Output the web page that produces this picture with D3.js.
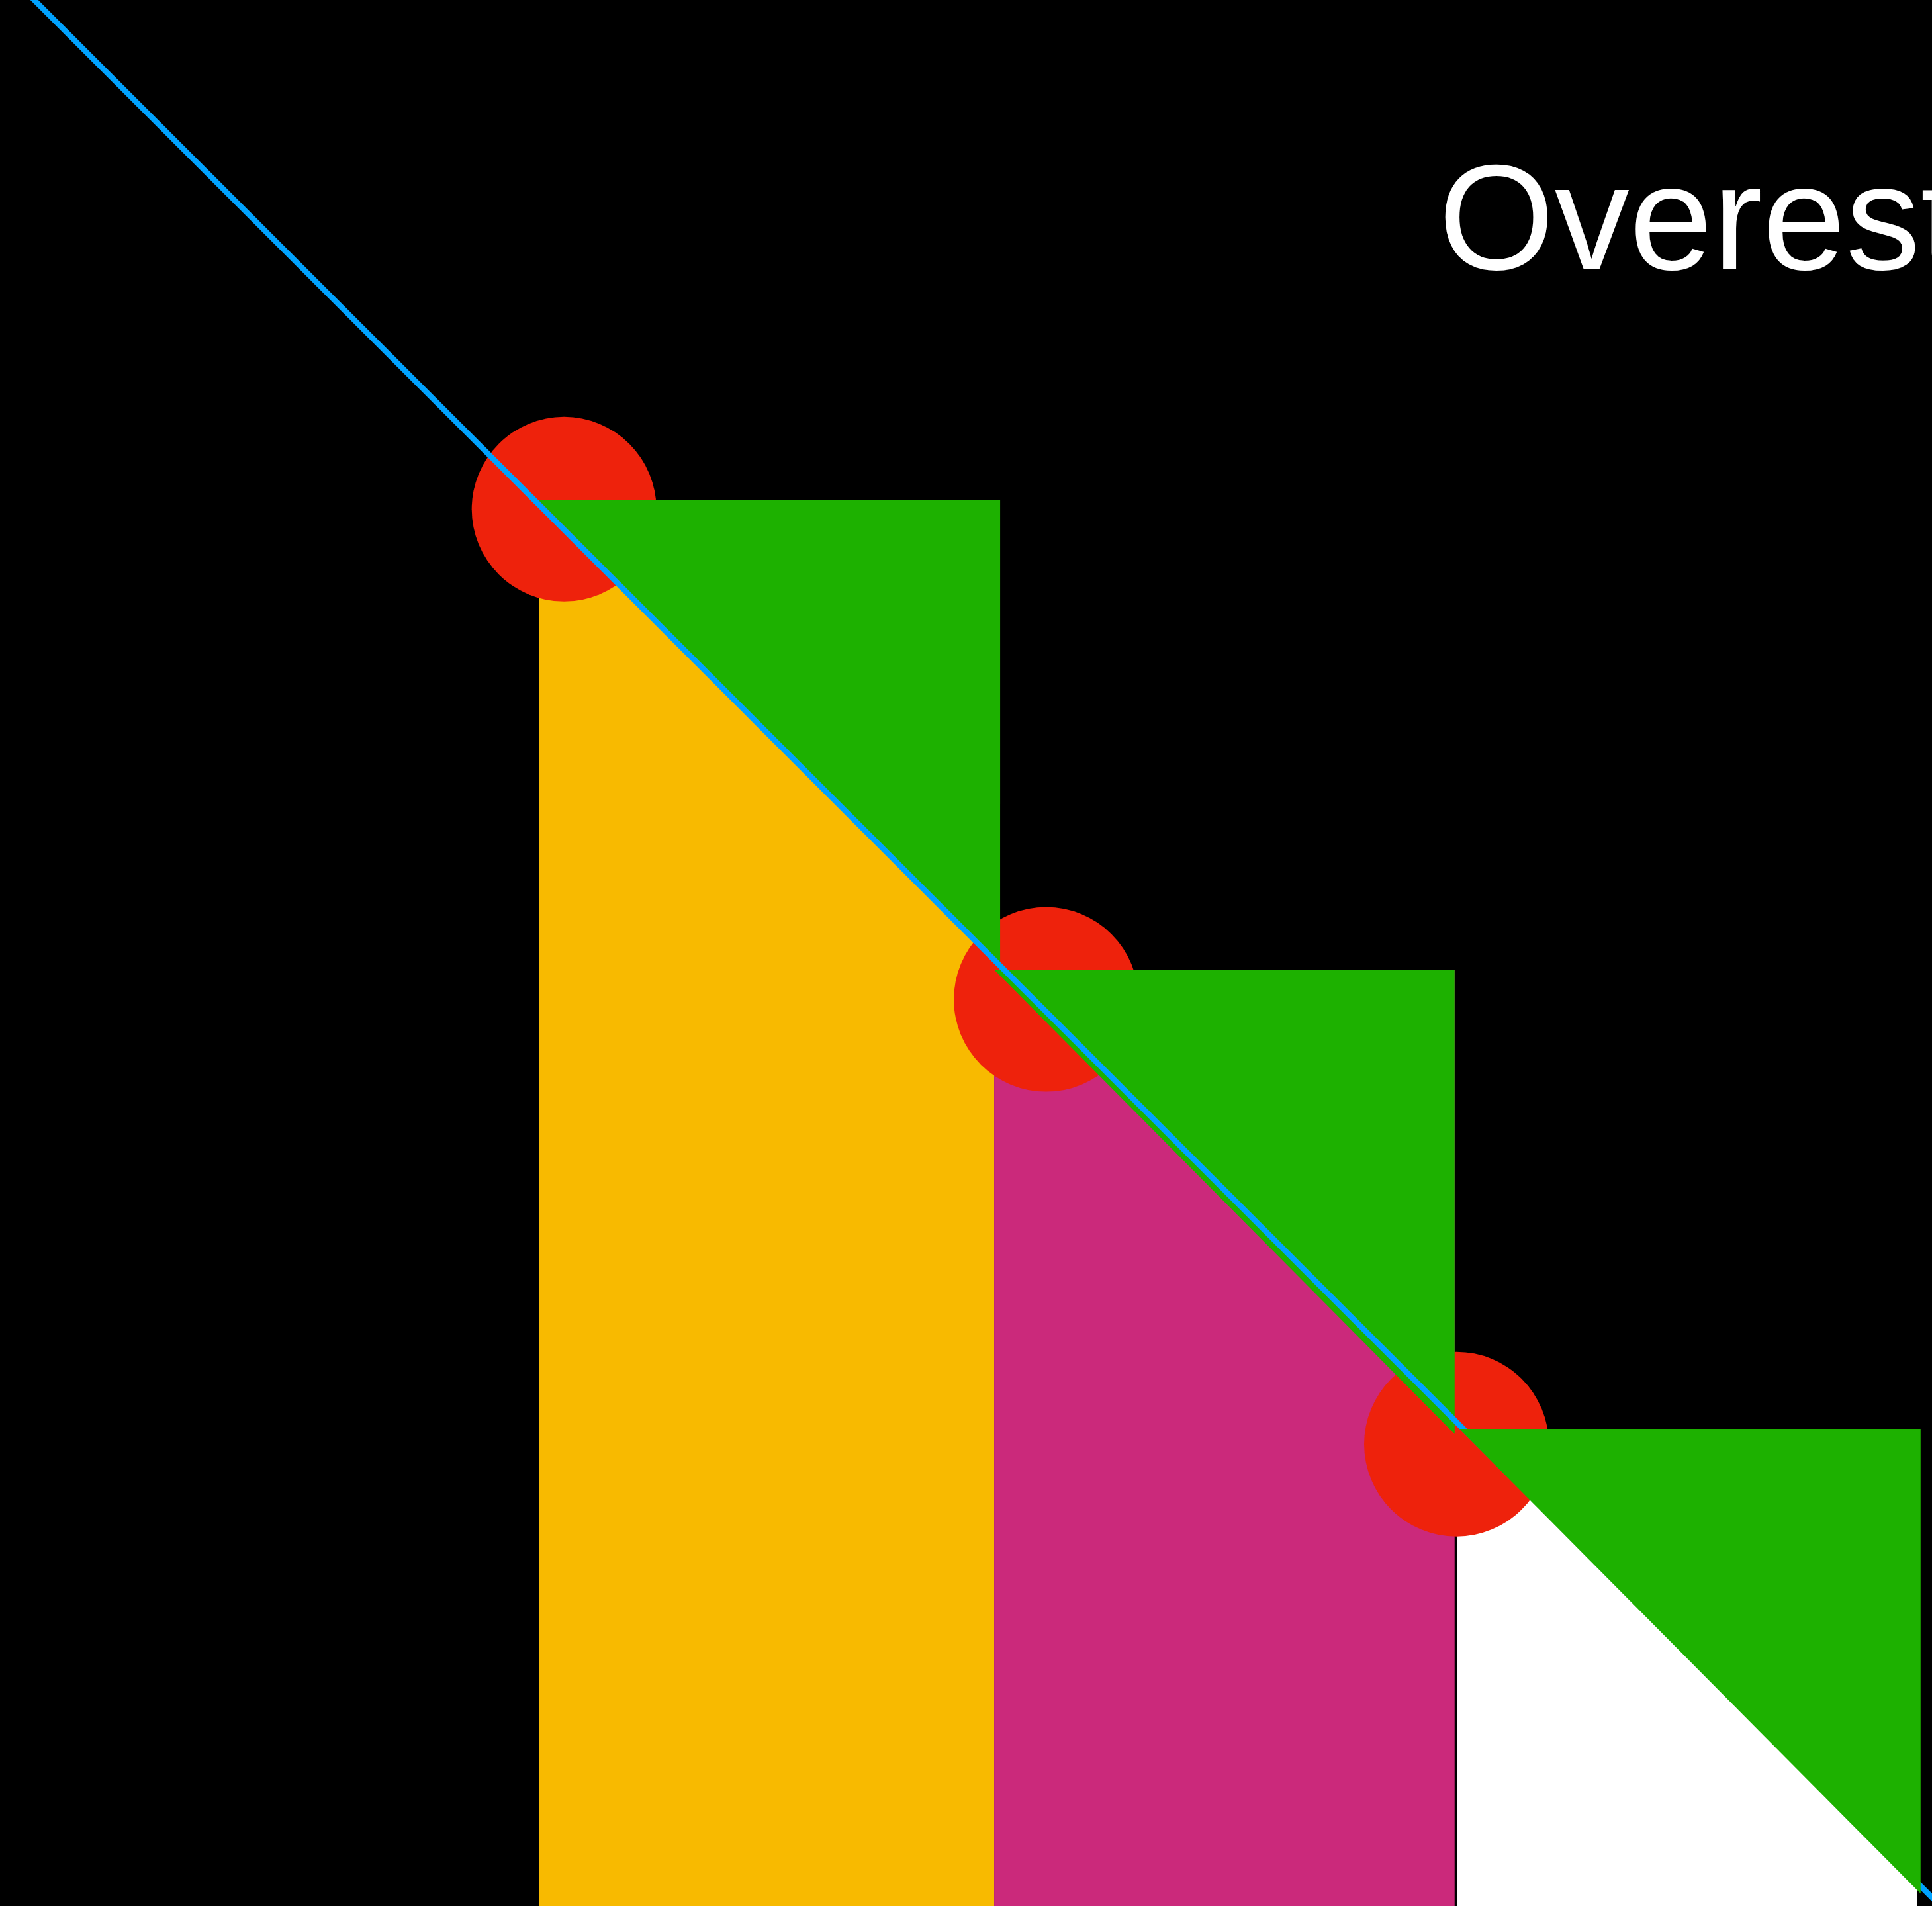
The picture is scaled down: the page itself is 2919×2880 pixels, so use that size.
<!DOCTYPE html>
<html>
<head>
<meta charset="utf-8">
<script src="https://cdn.jsdelivr.net/npm/d3@7"></script>
<style>
  html, body { margin: 0; padding: 0; background: #000; }
  svg { display: block; }
</style>
</head>
<body>
<svg id="chart"></svg>
<script>
// rectangles (left endpoint rule) - x in interval units, y in function units
const barLefts  = [1.00, 1.99, 2.996];
const barRights = [1.99, 2.991, 3.997];
const barTops   = [4.00, 2.988, 2.00];

// sample points at the left endpoints
const pointX = [1.055, 2.103, 2.995];
const pointY = [3.981, 2.925, 1.967];

// overestimate triangles
const triLefts   = [1.00, 1.991, 3.001];
const triRights  = [2.003, 2.991, 4.004];
const triTops    = [4.00, 2.988, 2.00];
const triBottoms = [3.001, 1.989, 0.999];

// the function itself (straight line)
const lineX = [-0.2, 4.1];
const lineY = [5.18, 0.92];

const label = "Overestimate";

const width = 2919, height = 2880;
const barColors = ["#F8BA00", "#CB297B", "#FFFFFF"];

const svg = d3.select("#chart")
    .attr("width", width)
    .attr("height", height)
    .style("background", "#000");

const x = d3.scaleLinear().domain([1, 2]).range([814, 1509]);
const y = d3.scaleLinear().domain([4, 3]).range([756, 1457.5]);

// bars
svg.selectAll(".bar")
    .data(barLefts.map((l, i) => ({ l, r: barRights[i], t: barTops[i], i })))
    .enter().append("rect")
    .attr("class", "bar")
    .attr("x", d => x(d.l))
    .attr("y", d => y(d.t))
    .attr("width", d => x(d.r) - x(d.l))
    .attr("height", d => y(0) - y(d.t))
    .style("fill", d => barColors[d.i]);

// sample points
svg.selectAll(".dot")
    .data(pointX.map((px, i) => ({ px, py: pointY[i] })))
    .enter().append("circle")
    .attr("class", "dot")
    .attr("cx", d => x(d.px))
    .attr("cy", d => y(d.py))
    .attr("r", 139.5)
    .style("fill", "#EE220C");

const tris = triLefts.map((l, i) => ({ l, r: triRights[i], t: triTops[i], b: triBottoms[i], i }));
const triPath = d => `M${x(d.l)},${y(d.t)}L${x(d.r)},${y(d.t)}L${x(d.r)},${y(d.b)}Z`;

svg.selectAll(".tri-a")
    .data(tris.slice(0, 2))
    .enter().append("path")
    .attr("class", "tri-a")
    .attr("d", triPath)
    .style("fill", "#1DB100");

const line = d3.line()
    .x(d => x(d[0]))
    .y(d => y(d[1]));

svg.append("path")
    .datum(lineX.map((v, i) => [v, lineY[i]]))
    .attr("d", line)
    .style("fill", "none")
    .style("stroke", "#00A2FF")
    .style("stroke-width", 8.5);

svg.selectAll(".tri-b")
    .data(tris.slice(2))
    .enter().append("path")
    .attr("class", "tri-b")
    .attr("d", triPath)
    .style("fill", "#1DB100");

// label runs off the right edge, as in the original
svg.append("text")
    .attr("x", 2173)
    .attr("y", 407)
    .style("font-family", "'Liberation Sans', Arial, Helvetica, sans-serif")
    .style("font-size", "226px")
    .style("fill", "#FFFFFF")
    .text(label);
</script>
</body>
</html>
